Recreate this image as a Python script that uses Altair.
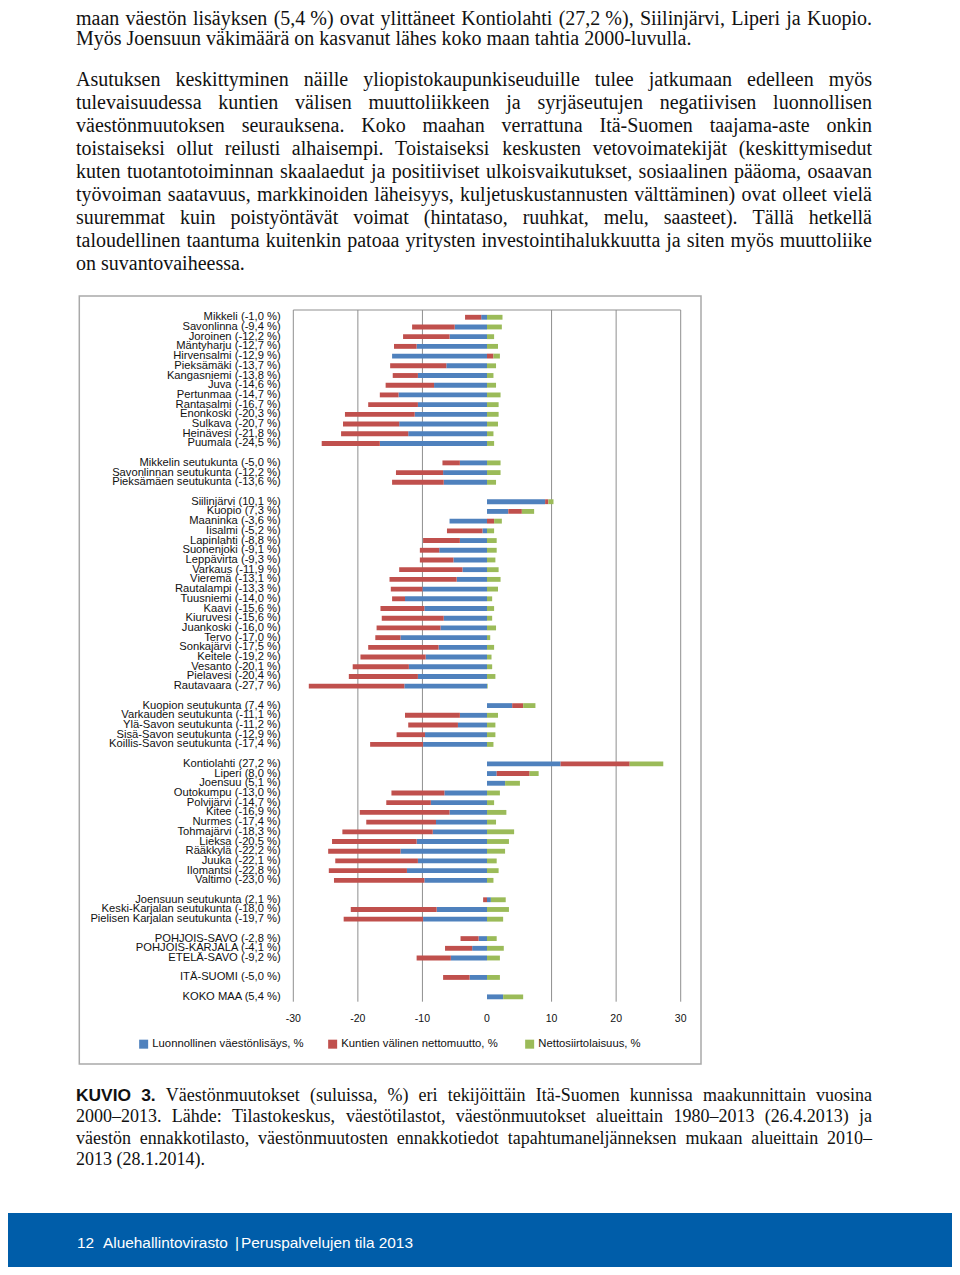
import altair as alt
import pandas as pd

# ---------------- chart data ----------------
labels = [
    "Mikkeli (-1,0 %)", "Savonlinna (-9,4 %)", "Joroinen (-12,2 %)", "Mäntyharju (-12,7 %)",
    "Hirvensalmi (-12,9 %)", "Pieksämäki (-13,7 %)", "Kangasniemi  (-13,8 %)", "Juva (-14,6 %)",
    "Pertunmaa (-14,7 %)", "Rantasalmi  (-16,7 %)", "Enonkoski (-20,3 %)", "Sulkava (-20,7 %)",
    "Heinävesi (-21,8 %)", "Puumala (-24,5 %)",
    "",
    "Mikkelin seutukunta  (-5,0 %)", "Savonlinnan seutukunta (-12,2 %)", "Pieksämäen seutukunta (-13,6 %)",
    "",
    "Siilinjärvi (10,1 %)", "Kuopio (7,3 %)", "Maaninka (-3,6 %)", "Iisalmi (-5,2 %)", "Lapinlahti (-8,8 %)",
    "Suonenjoki (-9,1 %)", "Leppävirta (-9,3 %)", "Varkaus (-11,9 %)", "Vieremä (-13,1 %)",
    "Rautalampi  (-13,3 %)", "Tuusniemi (-14,0 %)", "Kaavi (-15,6 %)", "Kiuruvesi (-15,6 %)",
    "Juankoski (-16,0 %)", "Tervo (-17,0 %)", "Sonkajärvi (-17,5 %)", "Keitele (-19,2 %)",
    "Vesanto (-20,1 %)", "Pielavesi (-20,4 %)", "Rautavaara (-27,7 %)",
    "",
    "Kuopion seutukunta (7,4 %)", "Varkauden seutukunta  (-11,1 %)", "Ylä-Savon seutukunta  (-11,2 %)",
    "Sisä-Savon seutukunta  (-12,9 %)", "Koillis-Savon seutukunta  (-17,4 %)",
    "",
    "Kontiolahti (27,2 %)", "Liperi (8,0 %)", "Joensuu (5,1 %)", "Outokumpu (-13,0 %)",
    "Polvijärvi (-14,7 %)", "Kitee (-16,9 %)", "Nurmes (-17,4 %)", "Tohmajärvi (-18,3 %)",
    "Lieksa (-20,5 %)", "Rääkkylä  (-22,2 %)", "Juuka (-22,1 %)", "Ilomantsi (-22,8 %)", "Valtimo (-23,0 %)",
    "",
    "Joensuun seutukunta (2,1 %)", "Keski-Karjalan seutukunta (-18,0 %)", "Pielisen Karjalan seutukunta (-19,7 %)",
    "",
    "POHJOIS-SAVO (-2,8 %)", "POHJOIS-KARJALA (-4,1 %)", "ETELÄ-SAVO (-9,2 %)",
    "",
    "ITÄ-SUOMI (-5,0 %)",
    "",
    "KOKO MAA (5,4 %)",
]

natural = [
    -0.9, -5.0, -5.8, -10.9, -14.7, -6.3, -10.7, -8.2, -13.7, -10.7, -11.2, -13.6, -12.2, -16.6,
    None,
    -4.2, -6.8, -6.7,
    None,
    9.0, 3.3, -5.8, -0.7, -4.2, -7.4, -5.2, -3.8, -4.7, -10.0, -12.7, -9.7, -6.7, -7.2, -13.4,
    -7.5, -9.5, -12.1, -10.7, -12.8,
    None,
    3.9, -4.2, -4.5, -9.6, -9.9,
    None,
    11.4, 1.5, 2.8, -6.6, -8.7, -5.8, -7.9, -8.4, -10.9, -13.4, -10.7, -12.4, -9.7,
    None,
    0.6, -7.8, -9.9,
    None,
    -1.3, -2.3, -5.6,
    None,
    -2.7,
    None,
    2.5,
]

migration = [
    -2.5, -6.6, -7.2, -3.5, 1.0, -8.7, -3.9, -7.5, -2.9, -7.7, -10.8, -8.7, -10.4, -9.0,
    None,
    -2.7, -7.3, -8.0,
    None,
    0.5, 2.1, 1.1, -5.5, -5.7, -3.0, -5.2, -9.8, -10.4, -4.9, -2.0, -6.8, -9.6, -9.9, -3.9,
    -10.9, -10.1, -8.7, -10.7, -14.8,
    None,
    1.7, -8.5, -7.7, -4.4, -8.2,
    None,
    10.7, 5.1, 0.0, -8.2, -6.9, -13.9, -10.8, -14.0, -13.1, -11.2, -12.8, -12.1, -14.0,
    None,
    -0.6, -13.3, -12.3,
    None,
    -2.8, -4.2, -5.3,
    None,
    -4.1,
    None,
    0.0,
]

immigration = [
    2.4, 2.3, 1.1, 1.7, 1.0, 1.4, 1.0, 1.4, 2.1, 1.8, 1.8, 1.7, 1.0, 1.1,
    None,
    2.1, 2.1, 1.4,
    None,
    0.8, 1.9, 1.2, 1.1, 1.5, 1.5, 1.3, 1.8, 2.1, 1.7, 0.8, 1.1, 0.8, 1.4, 0.5,
    1.1, 0.7, 0.8, 1.3, 0.1,
    None,
    1.9, 1.7, 1.3, 1.3, 1.0,
    None,
    5.2, 1.4, 2.3, 2.0, 1.1, 3.0, 1.4, 4.2, 3.4, 2.8, 1.5, 1.8, 1.0,
    None,
    2.3, 3.4, 2.5,
    None,
    1.5, 2.6, 2.0,
    None,
    2.0,
    None,
    3.1,
]

series_names = ["Luonnollinen väestönlisäys, %", "Kuntien välinen nettomuutto,  %", "Nettosiirtolaisuus, %"]
series_colors = ["#4F81BD", "#C0504D", "#9BBB59"]
x_ticks = [-30, -20, -10, 0, 10, 20, 30]

# ---------------- surrounding page text ----------------
para1 = [
    ("maan väestön lisäyksen (5,4\u00a0%) ovat ylittäneet Kontiolahti (27,2\u00a0%), Siilinjärvi, Liperi ja Kuopio.", True),
    ("Myös Joensuun väkimäärä on kasvanut lähes koko maan tahtia 2000-luvulla.", False),
]
para2 = [
    ("Asutuksen keskittyminen näille yliopistokaupunkiseuduille tulee jatkumaan edelleen myös", True),
    ("tulevaisuudessa kuntien välisen muuttoliikkeen ja syrjäseutujen negatiivisen luonnollisen", True),
    ("väestönmuutoksen seurauksena. Koko maahan verrattuna Itä-Suomen taajama-aste onkin", True),
    ("toistaiseksi ollut reilusti alhaisempi. Toistaiseksi keskusten vetovoimatekijät (keskittymisedut", True),
    ("kuten tuotantotoiminnan skaalaedut ja positiiviset ulkoisvaikutukset, sosiaalinen pääoma, osaavan", True),
    ("työvoiman saatavuus, markkinoiden läheisyys, kuljetuskustannusten välttäminen) ovat olleet vielä", True),
    ("suuremmat kuin poistyöntävät voimat (hintataso, ruuhkat, melu, saasteet). Tällä hetkellä", True),
    ("taloudellinen taantuma kuitenkin patoaa yritysten investointihalukkuutta ja siten myös muuttoliike", True),
    ("on suvantovaiheessa.", False),
]
caption = [
    ("KUVIO 3. Väestönmuutokset (suluissa, %) eri tekijöittäin Itä-Suomen kunnissa maakunnittain vuosina", True),
    ("2000–2013. Lähde: Tilastokeskus, väestötilastot, väestönmuutokset alueittain 1980–2013 (26.4.2013) ja", True),
    ("väestön ennakkotilasto, väestönmuutosten ennakkotiedot tapahtumaneljänneksen mukaan alueittain 2010–", True),
    ("2013 (28.1.2014).", False),
]
bold_words = {"KUVIO", "3."}
footer = ["12", "Aluehallintovirasto", "|", "Peruspalvelujen tila 2013"]

# ---------------- layout helpers ----------------
OX, OY = 8, 8  # page margin
SERIF = "Liberation Serif"
SANS = "Liberation Sans"

TW = dict(zip("abcdefghijklmnopqrstuvwxyz",
              [444, 500, 444, 500, 444, 333, 500, 500, 278, 278, 500, 278, 778, 500, 500, 500, 500, 333, 389, 278,
               500, 500, 722, 500, 500, 444]))
TW.update(dict(zip("ABCDEFGHIJKLMNOPQRSTUVWXYZ",
                   [722, 667, 667, 722, 611, 556, 722, 722, 333, 389, 722, 611, 889, 722, 722, 556, 722, 667, 556,
                    611, 722, 722, 944, 722, 722, 611])))
TW.update({d: 500 for d in "0123456789"})
TW.update({" ": 250, "\u00a0": 250, ".": 250, ",": 250, "(": 333, ")": 333, "%": 833, "-": 333, "–": 500,
           ":": 278, "ä": 444, "ö": 500, "Ä": 722, "Ö": 722, "å": 444})
ABW = {"K": 722, "U": 722, "V": 667, "I": 278, "O": 778, "3": 556, ".": 278, " ": 278}


def width(word, size, bold=False):
    table = ABW if bold else TW
    return sum(table.get(c, 500) for c in word) * size / 1000.0


def layout(lines, ys_, size, bold_size=None, x0=76, x1=872):
    serif_rows, bold_rows = [], []
    for (line, just), yp in zip(lines, ys_):
        y = yp - OY
        if not just:
            serif_rows.append({"t": line, "x": x0 - OX, "y": y})
            continue
        words = line.split(" ")
        ws = [width(w, bold_size if w in bold_words else size, w in bold_words) for w in words]
        gap = (x1 - x0 - sum(ws)) / (len(words) - 1)
        x = x0
        for w, wd in zip(words, ws):
            row = {"t": w, "x": x - OX, "y": y}
            (bold_rows if w in bold_words else serif_rows).append(row)
            x += wd + gap
    return serif_rows, bold_rows


p_rows, _ = layout(para1, [18.5, 38.5], 20)
p2_rows, _ = layout(para2, [80 + 23 * k for k in range(len(para2))], 20)
c_rows, cb_rows = layout(caption, [1096 + 21.4 * k for k in range(len(caption))], 18, bold_size=17.4)

W, H = 944, 1259

# ---------------- data frames ----------------
n = len(labels)
long_rows = []
for i in range(n):
    for s, (arr, name) in enumerate(zip([natural, migration, immigration], series_names)):
        v = arr[i]
        if v is not None:
            long_rows.append({"row": i, "series": name, "value": v, "sidx": s})
bars_df = pd.DataFrame(long_rows)
lab_df = pd.DataFrame([{"row": i, "label": l} for i, l in enumerate(labels) if l])
tick_df = pd.DataFrame({"g": x_ticks, "lab": [str(t) for t in x_ticks]})

xs = alt.Scale(domain=[-30, 30], range=[293.3 - OX, 680.7 - OX], nice=False, zero=False)
ys = alt.Scale(domain=list(range(n)), range=[312.4 - OY, 1001.7 - OY], paddingInner=0.5, paddingOuter=0.25)
cs = alt.Scale(domain=series_names, range=series_colors)

frame = alt.Chart(pd.DataFrame({"a": [0]})).mark_rect(
    fill="white", fillOpacity=0, stroke="#a9a9a9", strokeWidth=1.5
).encode(x=alt.value(79.3 - OX), x2=alt.value(701 - OX), y=alt.value(296 - OY), y2=alt.value(1064 - OY))

top_line = alt.Chart(pd.DataFrame({"a": [0]})).mark_rule(color="#8f8f8f", strokeWidth=1).encode(
    x=alt.value(293.3 - OX), x2=alt.value(680.7 - OX), y=alt.value(310 - OY))

grid = alt.Chart(tick_df[tick_df.g != 0]).mark_rule(
    color="#8f8f8f", strokeWidth=1
).encode(x=alt.X("g:Q", scale=xs, axis=None), y=alt.value(310 - OY), y2=alt.value(1001.7 - OY))

tick_labels = alt.Chart(tick_df).mark_text(
    align="center", baseline="middle", font=SANS, fontSize=10.5, color="#111"
).encode(x=alt.X("g:Q", scale=xs, axis=None), y=alt.value(1019 - OY), text="lab:N")

bars = alt.Chart(bars_df).mark_bar().encode(
    x=alt.X("value:Q", stack="zero", scale=xs, title=None, axis=None),
    y=alt.Y("row:O", scale=ys, title=None,
            axis=alt.Axis(orient="left", offset=-(486.8 - OX), labels=False, domainColor="#8f8f8f",
                          tickColor="#8f8f8f", tickSize=3, tickBand="extent", grid=False, zindex=0)),
    color=alt.Color("series:N", scale=cs,
                    legend=alt.Legend(orient="none", legendX=138 - OX, legendY=1045 - OY - 6.5,
                                      direction="horizontal", title=None, symbolType="square", symbolSize=81,
                                      symbolStrokeWidth=0, labelFont=SANS, labelFontSize=11.3,
                                      labelColor="#111", labelOffset=3, columnPadding=23, padding=0,
                                      labelLimit=400)),
    order=alt.Order("sidx:Q", sort="ascending"),
)

cat_labels = alt.Chart(lab_df).mark_text(
    align="right", baseline="middle", font=SANS, fontSize=11.2, color="#111"
).encode(x=alt.value(280.7 - OX), y=alt.Y("row:O", scale=ys, axis=None), text="label:N")


def text_layer(rows, font, size, color="#111", weight="normal"):
    return alt.Chart(pd.DataFrame(rows)).mark_text(
        align="left", baseline="middle", font=font, fontSize=size, color=color, fontWeight=weight
    ).encode(x=alt.X("x:Q", scale=None), y=alt.Y("y:Q", scale=None), text="t:N")


body = text_layer(p_rows + p2_rows, SERIF, 20)
cap = text_layer(c_rows, SERIF, 18)
cap_b = text_layer(cb_rows, SANS, 17.4, weight="bold")

band = alt.Chart(pd.DataFrame({"a": [0]})).mark_rect(color="#005da9").encode(
    x=alt.value(0), x2=alt.value(W), y=alt.value(1213 - OY), y2=alt.value(1268 - OY))
foot_rows = [{"t": t, "x": xp - OX, "y": 1243 - OY} for t, xp in zip(footer, [77, 103, 235, 241])]
foot = text_layer(foot_rows, SANS, 15.4, color="white")

chart = alt.layer(
    frame, top_line, grid, tick_labels, bars, cat_labels, body, cap, cap_b, band, foot
).properties(
    width=W, height=H, padding=0, autosize=alt.AutoSizeParams(type="none"), background="white"
).configure_view(strokeWidth=0)

chart.save("out.html", embed_options={"renderer": "svg", "actions": False})
